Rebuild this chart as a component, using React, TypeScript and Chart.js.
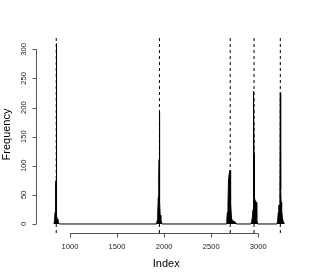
import React, { useEffect, useRef } from "react";
import { Chart, registerables } from "chart.js";

Chart.register(...registerables);

// Index positions and their frequencies
const indexValues = [
  830, 836, 841, 845, 849, 852, 854, 856, 860, 866, 872, 880, 886,
  1920, 1926, 1932, 1938, 1943, 1947, 1950, 1953, 1958, 1965, 1972, 1978,
  2660, 2666, 2672, 2678, 2684, 2688, 2694, 2700, 2704, 2708, 2714, 2722, 2735, 2750, 2762, 2768,
  2922, 2930, 2938, 2944, 2948, 2951, 2955, 2960, 2966, 2972, 2978, 2984, 2992,
  3198, 3206, 3212, 3218, 3224, 3230, 3234, 3238, 3242, 3248, 3256, 3266, 3277,
];
const frequencyValues = [
  0, 6, 20, 45, 65, 75, 310, 30, 14, 8, 5, 2, 0,
  0, 6, 18, 47, 80, 111, 191, 40, 15, 8, 3, 0,
  0, 8, 20, 30, 78, 82, 88, 92, 86, 40, 12, 6, 5, 4, 2, 0,
  0, 4, 12, 25, 60, 228, 120, 45, 40, 32, 37, 10, 0,
  0, 5, 20, 32, 33, 60, 225, 60, 38, 25, 10, 4, 0,
];
// Positions of the dashed vertical marker lines
const cutIndices = [854, 1950, 2702, 2955, 3234];

const xTicks = [1000, 1500, 2000, 2500, 3000];
const yTicks = [0, 50, 100, 150, 200, 250, 300];
const xTitle = "Index";
const yTitle = "Frequency";

const X_MIN = 639;
const X_MAX = 3406;
const Y_MIN = -15.5;
const Y_MAX = 323;

const FONT = '"Liberation Sans", Arial, Helvetica, sans-serif';

const rAxesPlugin = {
  id: "rAxes",
  afterDraw(chart: any) {
    const ctx = chart.ctx as CanvasRenderingContext2D;
    const area = chart.chartArea;
    const xs = chart.scales.x;
    const ys = chart.scales.y;
    ctx.save();
    ctx.strokeStyle = "#555";
    ctx.fillStyle = "#000";
    ctx.lineWidth = 1;

    // x axis
    const yAxis = Math.round(area.bottom) + 0.5;
    const x0 = xs.getPixelForValue(xTicks[0]);
    const x1 = xs.getPixelForValue(xTicks[xTicks.length - 1]);
    ctx.beginPath();
    ctx.moveTo(x0, yAxis);
    ctx.lineTo(x1, yAxis);
    for (const t of xTicks) {
      const px = Math.round(xs.getPixelForValue(t)) + 0.5;
      ctx.moveTo(px, yAxis);
      ctx.lineTo(px, yAxis + 4);
    }
    ctx.stroke();
    ctx.font = `7.6px ${FONT}`;
    ctx.fillStyle = "#222";
    ctx.textAlign = "center";
    ctx.textBaseline = "alphabetic";
    for (const t of xTicks) {
      ctx.fillText(String(t), xs.getPixelForValue(t), 248.7);
    }

    // y axis
    const xAxis = Math.round(area.left) + 0.5;
    const y0 = ys.getPixelForValue(yTicks[0]);
    const y1 = ys.getPixelForValue(yTicks[yTicks.length - 1]);
    ctx.beginPath();
    ctx.moveTo(xAxis, y0);
    ctx.lineTo(xAxis, y1);
    for (const t of yTicks) {
      const py = Math.round(ys.getPixelForValue(t)) + 0.5;
      ctx.moveTo(xAxis, py);
      ctx.lineTo(xAxis - 4, py);
    }
    ctx.stroke();
    for (const t of yTicks) {
      ctx.save();
      ctx.translate(25.5, ys.getPixelForValue(t));
      ctx.rotate(-Math.PI / 2);
      ctx.fillText(String(t), 0, 0);
      ctx.restore();
    }

    // titles
    ctx.fillStyle = "#000";
    ctx.font = `11px ${FONT}`;
    ctx.fillText(xTitle, (area.left + area.right) / 2, 266.5);
    ctx.save();
    ctx.translate(9.8, (area.top + area.bottom) / 2);
    ctx.rotate(-Math.PI / 2);
    ctx.fillText(yTitle, 0, 0);
    ctx.restore();
    ctx.restore();
  },
};

export default function App() {
  const ref = useRef<HTMLCanvasElement | null>(null);

  useEffect(() => {
    if (!ref.current) return;
    const mainData = indexValues.map((x, i) => ({ x, y: frequencyValues[i] }));
    const cutSets = cutIndices.map((c) => ({
      type: "line" as const,
      data: [
        { x: c, y: Y_MIN },
        { x: c, y: Y_MAX },
      ],
      borderColor: "#000",
      borderWidth: 1,
      borderDash: [3, 3],
      pointRadius: 0,
      fill: false,
      tension: 0,
    }));
    const chart = new Chart(ref.current, {
      type: "line",
      data: {
        datasets: [
          {
            data: mainData,
            borderColor: "#000",
            backgroundColor: "#000",
            borderWidth: 1,
            pointRadius: 0,
            fill: "origin",
            tension: 0,
          },
          ...cutSets,
        ] as any,
      },
      options: {
        responsive: false,
        animation: false,
        events: [],
        layout: { padding: { left: 36, right: 18.5, top: 36, bottom: 45 } },
        plugins: { legend: { display: false }, tooltip: { enabled: false } },
        scales: {
          x: { type: "linear", min: X_MIN, max: X_MAX, display: false },
          y: { type: "linear", min: Y_MIN, max: Y_MAX, display: false },
        },
      },
      plugins: [rAxesPlugin],
    });
    return () => chart.destroy();
  }, []);

  return (
    <div style={{ position: "fixed", left: 0, top: 0, width: 315, height: 278, background: "#fff" }}>
      <canvas ref={ref} width={315} height={278} style={{ display: "block", width: 315, height: 278 }} />
    </div>
  );
}
